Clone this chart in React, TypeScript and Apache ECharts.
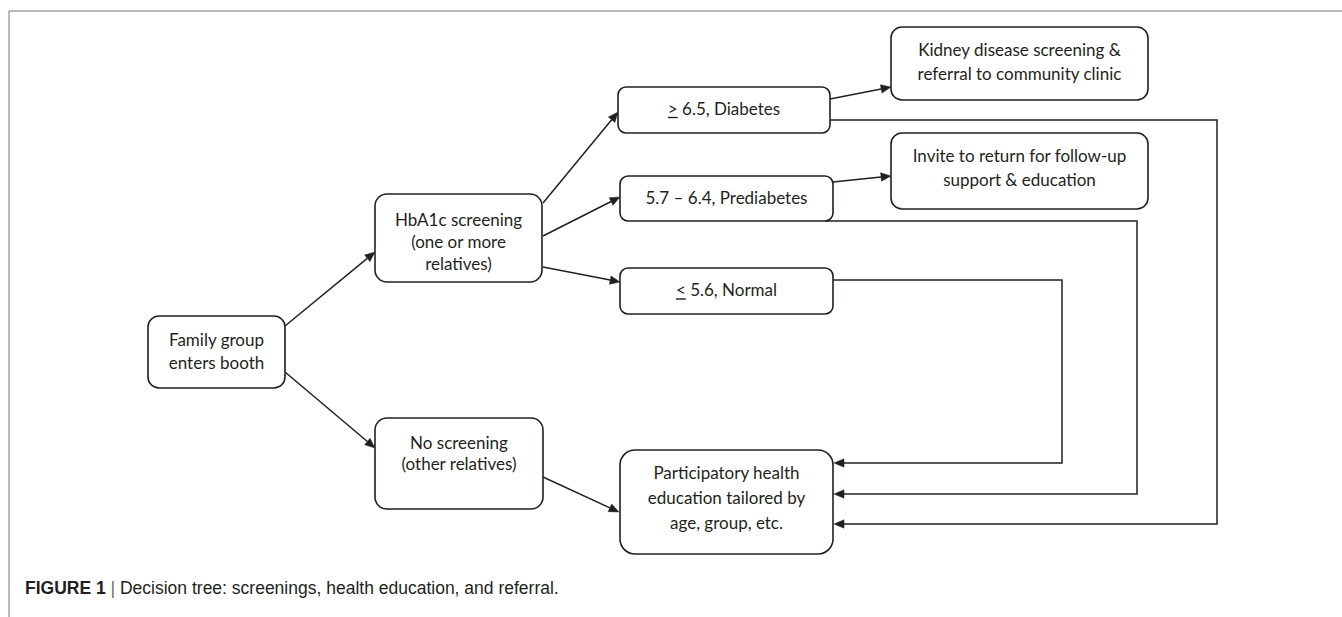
import React, { useEffect, useRef } from "react";
import * as echarts from "echarts";

// ---- content ----
const nodeIds = ["family", "hba1c", "none", "diab", "pre", "normal", "kidney", "invite", "edu"];
const nodeLabels = [
  "Family group\nenters booth",
  "HbA1c screening\n(one or more\nrelatives)",
  "No screening\n(other relatives)",
  "> 6.5, Diabetes",
  "5.7 – 6.4, Prediabetes",
  "< 5.6, Normal",
  "Kidney disease screening &\nreferral to community clinic",
  "Invite to return for follow-up\nsupport & education",
  "Participatory health\neducation tailored by\nage, group, etc.",
];
const underlinedFirstChar = ["diab", "normal"];
const edgeFrom = ["family", "family", "hba1c", "hba1c", "hba1c", "diab", "pre", "normal", "pre", "diab", "none"];
const edgeTo = ["hba1c", "none", "diab", "pre", "normal", "kidney", "invite", "edu", "edu", "edu", "edu"];
const captionBold = "FIGURE 1";
const captionText = "Decision tree: screenings, health education, and referral.";

// ---- layout (positions in the diagram's own coordinate space) ----
// [x0, y0, x1, y1, cornerRadius, textCenterY, lineHeight]
const nodeLayout: Record<string, number[]> = {
  family: [148, 316, 285, 388, 11, 350.5, 23],
  hba1c: [375, 194, 542, 282, 12, 241, 22],
  none: [375, 418, 543, 509, 12, 452.5, 21],
  diab: [618, 87, 830, 133, 8, 108, 22],
  pre: [620, 176, 833, 221, 8, 197, 22],
  normal: [620, 268, 833, 314, 8, 289.5, 22],
  kidney: [891, 27, 1148, 100, 11, 61, 24],
  invite: [891, 133, 1148, 209, 11, 167, 24],
  edu: [620, 450, 833, 554, 15, 497, 25],
};
const edgeRoutes: number[][][] = [
  [[285, 326], [375, 252]],
  [[285, 372], [375, 448]],
  [[543, 203], [618, 112]],
  [[543, 236], [620, 197]],
  [[543, 267], [620, 282]],
  [[830, 99], [891, 87]],
  [[833, 182], [891, 176]],
  [[833, 280], [1062, 280], [1062, 463], [834, 463]],
  [[825, 221], [1137, 221], [1137, 494], [834, 494]],
  [[830, 120], [1217, 120], [1217, 524], [834, 524]],
  [[543, 477], [619, 512]],
];

const W = 1342;
const H = 617;
const INK = "#231f20";
const FONT_FAMILY = "Lato, 'Open Sans', sans-serif";
const FONT_SIZE = 17;
const CAP_FONT = "'Liberation Sans', Arial, sans-serif";
const CAP_SIZE = 17.5;

function measure(text: string, font: string): number {
  const c = document.createElement("canvas").getContext("2d");
  if (!c) return text.length * 8;
  c.font = font;
  return c.measureText(text).width;
}

export default function App() {
  const ref = useRef<HTMLDivElement>(null);
  useEffect(() => {
    if (!ref.current) return;
    const chart = echarts.init(ref.current, undefined, { renderer: "svg" });
    const font = `${FONT_SIZE}px ${FONT_FAMILY}`;

    const nodeData = nodeIds.map((id, i) => {
      const b = nodeLayout[id];
      return [b[0], b[1], b[2], b[3], i];
    });
    const edgeData = edgeRoutes.map((r, k) => [r[0][0], r[0][1], k]);

    const option: any = {
      animation: false,
      backgroundColor: "#ffffff",
      grid: { left: 0, right: 0, top: 0, bottom: 0, containLabel: false },
      xAxis: { type: "value", min: 0, max: W, show: false },
      yAxis: { type: "value", min: 0, max: H, inverse: true, show: false },
      series: [
        {
          type: "custom",
          name: "links",
          coordinateSystem: "cartesian2d",
          clip: false,
          silent: true,
          encode: { x: 0, y: 1 },
          data: edgeData,
          z: 2,
          renderItem: (params: any, api: any) => {
            const k = api.value(2);
            const pts = edgeRoutes[k].map((p) => api.coord(p));
            const n = pts.length;
            const tip = pts[n - 1];
            const prev = pts[n - 2];
            const dx = tip[0] - prev[0];
            const dy = tip[1] - prev[1];
            const len = Math.sqrt(dx * dx + dy * dy) || 1;
            const ux = dx / len;
            const uy = dy / len;
            const L = 10;
            const hw = 4.2;
            const base = [tip[0] - ux * L, tip[1] - uy * L];
            const linePts = pts.slice(0, n - 1).concat([base]);
            return {
              type: "group",
              children: [
                {
                  type: "polyline",
                  shape: { points: linePts },
                  style: { stroke: INK, lineWidth: 1.5, fill: "none" },
                },
                {
                  type: "polygon",
                  shape: {
                    points: [
                      tip,
                      [base[0] - uy * hw, base[1] + ux * hw],
                      [base[0] + uy * hw, base[1] - ux * hw],
                    ],
                  },
                  style: { fill: INK, stroke: INK, lineWidth: 0.5 },
                },
              ],
            };
          },
        },
        {
          type: "custom",
          name: "steps",
          coordinateSystem: "cartesian2d",
          clip: false,
          silent: true,
          encode: { x: [0, 2], y: [1, 3] },
          data: nodeData,
          z: 3,
          renderItem: (params: any, api: any) => {
            const i = api.value(4);
            const id = nodeIds[i];
            const b = nodeLayout[id];
            const p0 = api.coord([b[0], b[1]]);
            const p1 = api.coord([b[2], b[3]]);
            const cx = (p0[0] + p1[0]) / 2;
            const cy = api.coord([b[0], b[5]])[1];
            const lh = b[6];
            const children: any[] = [
              {
                type: "rect",
                shape: { x: p0[0], y: p0[1], width: p1[0] - p0[0], height: p1[1] - p0[1], r: b[4] },
                style: { fill: "#ffffff", stroke: INK, lineWidth: 1.6 },
              },
            ];
            const lines = nodeLabels[i].split("\n");
            lines.forEach((ln, k) => {
              const y = cy + (k - (lines.length - 1) / 2) * lh;
              children.push({
                type: "text",
                style: {
                  text: ln,
                  x: cx,
                  y,
                  align: "center",
                  verticalAlign: "middle",
                  fontSize: FONT_SIZE,
                  fontFamily: FONT_FAMILY,
                  fill: INK,
                },
              });
              if (k === 0 && underlinedFirstChar.indexOf(id) >= 0) {
                const full = measure(ln, font);
                const first = measure(ln.charAt(0), font);
                const left = cx - full / 2;
                children.push({
                  type: "line",
                  shape: { x1: left, y1: y + 9.5, x2: left + first, y2: y + 9.5 },
                  style: { stroke: INK, lineWidth: 1.4 },
                });
              }
            });
            return { type: "group", children };
          },
        },
      ],
      graphic: [
        {
          type: "line",
          shape: { x1: 9, y1: 11, x2: W, y2: 11 },
          style: { stroke: "#a3a3a3", lineWidth: 1.5 },
          silent: true,
        },
        {
          type: "line",
          shape: { x1: 9, y1: 11, x2: 9, y2: H },
          style: { stroke: "#a3a3a3", lineWidth: 1.5 },
          silent: true,
        },
        {
          type: "text",
          left: 25,
          top: 579,
          silent: true,
          style: {
            text: `{b|${captionBold}} {p||} ${captionText}`,
            fontSize: CAP_SIZE,
            fontFamily: CAP_FONT,
            fill: INK,
            rich: {
              b: { fontWeight: "bold", fontSize: CAP_SIZE, fontFamily: CAP_FONT, fill: INK },
              p: { fontSize: CAP_SIZE, fontFamily: CAP_FONT, fill: "#6d6e71" },
            },
          },
        },
      ],
    };
    chart.setOption(option);
    return () => chart.dispose();
  }, []);
  return (
    <div
      ref={ref}
      style={{ position: "fixed", left: 0, top: 0, width: W, height: H, background: "#fff" }}
    />
  );
}
